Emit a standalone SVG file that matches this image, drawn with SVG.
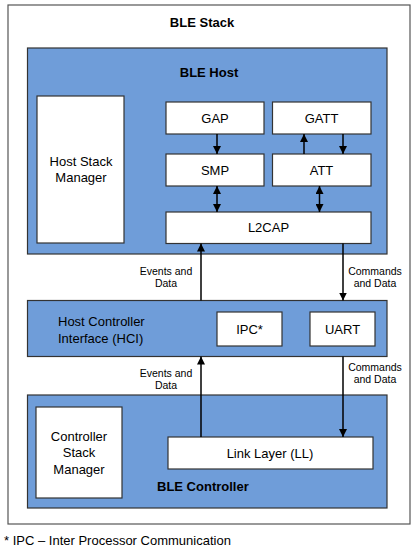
<svg xmlns="http://www.w3.org/2000/svg" width="417" height="551" viewBox="0 0 417 551">
<defs>
<style>
text{font-family:"Liberation Sans",Arial,sans-serif;fill:#000;}
.t{font-size:13px;text-anchor:middle;}
.l{font-size:13px;text-anchor:start;}
.b{font-size:13px;font-weight:bold;}
.s{font-size:10.5px;text-anchor:middle;}
.blue{fill:#6F9DD9;stroke:#333;stroke-width:1.2;}
.white{fill:#fff;stroke:#333;stroke-width:1.2;}
.ln{stroke:#000;stroke-width:1.5;fill:none;}
</style>
<marker id="ah" viewBox="0 0 8 8" refX="8" refY="4" markerWidth="8" markerHeight="8" markerUnits="userSpaceOnUse" orient="auto-start-reverse">
<path d="M0,0 L8,4 L0,8 z" fill="#000"/>
</marker>
</defs>
<rect width="417" height="551" fill="#fff"/>
<g id="stack">
<rect x="8" y="5" width="402" height="519" fill="#fff" stroke="#555" stroke-width="1.2"/>
<text class="b" x="202" y="27" text-anchor="middle">BLE Stack</text>
</g>
<g id="host">
<rect class="blue" x="27.5" y="48" width="359.5" height="206"/>
<text class="b" x="209" y="77" text-anchor="middle">BLE Host</text>
</g>
<g id="hsm">
<rect class="white" x="37" y="96" width="87" height="147"/>
<text class="t" x="81" y="166">Host Stack</text>
<text class="t" x="81" y="182">Manager</text>
</g>
<g id="gap">
<rect class="white" x="166" y="102" width="98" height="32"/>
<text class="t" x="215" y="122.5">GAP</text>
</g>
<g id="gatt">
<rect class="white" x="272.5" y="102" width="98.5" height="32"/>
<text class="t" x="321.5" y="122.5">GATT</text>
</g>
<g id="smp">
<rect class="white" x="166" y="154" width="98" height="32"/>
<text class="t" x="215" y="174.5">SMP</text>
</g>
<g id="att">
<rect class="white" x="272.5" y="154" width="98.5" height="32"/>
<text class="t" x="321.5" y="174.5">ATT</text>
</g>
<g id="l2cap">
<rect class="white" x="166" y="212" width="205" height="31.5"/>
<text class="t" x="268.5" y="232">L2CAP</text>
</g>
<g id="hci">
<rect class="blue" x="27.5" y="300.5" width="359.5" height="56"/>
<text class="l" x="58" y="326">Host Controller</text>
<text class="l" x="58" y="342.5">Interface (HCI)</text>
</g>
<g id="ipc">
<rect class="white" x="217" y="312" width="65" height="34"/>
<text class="t" x="249.5" y="333.5">IPC*</text>
</g>
<g id="uart">
<rect class="white" x="310" y="312" width="65" height="34"/>
<text class="t" x="342.5" y="333.5">UART</text>
</g>
<g id="controller">
<rect class="blue" x="27.5" y="395" width="359.5" height="113"/>
<text class="b" x="157" y="491">BLE Controller</text>
</g>
<g id="csm">
<rect class="white" x="36" y="407" width="86" height="91"/>
<text class="t" x="79" y="440.5">Controller</text>
<text class="t" x="79" y="457">Stack</text>
<text class="t" x="79" y="473.5">Manager</text>
</g>
<g id="ll">
<rect class="white" x="168" y="437" width="205" height="32"/>
<text class="t" x="270" y="457.5">Link Layer (LL)</text>
</g>
<g id="connectors">
<line class="ln" x1="217" y1="134" x2="217" y2="154" marker-end="url(#ah)"/>
<line class="ln" x1="304" y1="154" x2="304" y2="134" marker-end="url(#ah)"/>
<line class="ln" x1="343" y1="134" x2="343" y2="154" marker-end="url(#ah)"/>
<line class="ln" x1="217" y1="186" x2="217" y2="212" marker-start="url(#ah)" marker-end="url(#ah)"/>
<line class="ln" x1="319.5" y1="186" x2="319.5" y2="212" marker-start="url(#ah)" marker-end="url(#ah)"/>
<line class="ln" x1="201" y1="300.5" x2="201" y2="243.5" marker-end="url(#ah)"/>
<line class="ln" x1="343" y1="243.5" x2="343" y2="300.5" marker-end="url(#ah)"/>
<line class="ln" x1="201" y1="437" x2="201" y2="356.5" marker-end="url(#ah)"/>
<line class="ln" x1="343" y1="356.5" x2="343" y2="437" marker-end="url(#ah)"/>
<text class="s" x="166" y="274.5">Events and</text>
<text class="s" x="166" y="287">Data</text>
<text class="s" x="375" y="274.5">Commands</text>
<text class="s" x="375" y="287">and Data</text>
<text class="s" x="166" y="376.5">Events and</text>
<text class="s" x="166" y="389">Data</text>
<text class="s" x="375" y="370.5">Commands</text>
<text class="s" x="375" y="383">and Data</text>
</g>
<text x="4" y="544.5" style="font-size:13px">* IPC – Inter Processor Communication</text>
</svg>
